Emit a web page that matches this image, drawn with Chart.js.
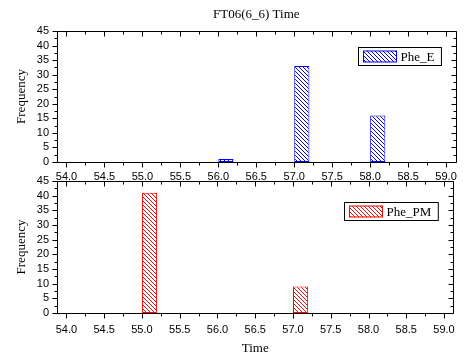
<!DOCTYPE html>
<html>
<head>
<meta charset="utf-8">
<script src="https://cdn.jsdelivr.net/npm/chart.js@4.4.1/dist/chart.umd.min.js"></script>
<style>
  html, body { margin: 0; padding: 0; background: #fff; }
  #wrap { position: relative; width: 465px; height: 356px; }
  canvas { position: absolute; left: 0; }
  #topChart { top: 0; }
  #bottomChart { top: 166px; }
</style>
</head>
<body>
<div id="wrap">
  <canvas id="topChart" width="465" height="190"></canvas>
  <canvas id="bottomChart" width="465" height="190"></canvas>
</div>
<script>
// histogram bins (left edge of each bin) and counts
const binWidth = 0.2;
const eBinStarts = [56.0, 57.0, 58.0];
const eCounts = [1, 33, 16];
const pmBinStarts = [55.0, 57.0];
const pmCounts = [41, 9];

const xMin = 54.0, xMax = 59.0;
const yMin = 0, yMax = 45;

const serif = '"Liberation Serif", "Times New Roman", serif';
const sans = '"Liberation Sans", Arial, sans-serif';

function hatch(color) {
    const s = 4;
    const c = document.createElement('canvas');
    c.width = s; c.height = s;
    const g = c.getContext('2d');
    g.fillStyle = '#fff';
    g.fillRect(0, 0, s, s);
    g.strokeStyle = color;
    g.lineWidth = 1;
    g.beginPath();
    g.moveTo(0, 0); g.lineTo(s, s);
    g.moveTo(-1, s - 1); g.lineTo(1, s + 1);
    g.moveTo(s - 1, -1); g.lineTo(s + 1, 1);
    g.stroke();
    return g.createPattern(c, 'repeat');
}

// frame + origin-style ticks (left/bottom out, top/right in)
const framePlugin = {
    id: 'frame',
    afterDraw(chart) {
        const ctx = chart.ctx;
        const { left, right, top, bottom } = chart.chartArea;
        const xs = chart.scales.x, ys = chart.scales.y;
        ctx.save();
        ctx.strokeStyle = '#000';
        ctx.lineWidth = 1;
        ctx.beginPath();
        const L = Math.round(left) + 0.5, R = Math.round(right) + 0.5;
        const T = Math.round(top) + 0.5, B = Math.round(bottom) + 0.5;
        ctx.rect(L, T, R - L, B - T);
        xs.ticks.forEach(t => {
            const px = Math.round(xs.getPixelForValue(t.value)) + 0.5;
            const major = Math.abs(t.value * 2 - Math.round(t.value * 2)) < 1e-6;
            const len = major ? 5 : 3;
            ctx.moveTo(px, B); ctx.lineTo(px, B + len);
            ctx.moveTo(px, T); ctx.lineTo(px, T + len);
        });
        ys.ticks.forEach((t, i) => {
            const vals = [t.value];
            if (i < ys.ticks.length - 1) vals.push((t.value + ys.ticks[i + 1].value) / 2);
            vals.forEach((v, j) => {
                const py = Math.round(ys.getPixelForValue(v)) + 0.5;
                const len = j === 0 ? 5 : 3;
                ctx.moveTo(L, py); ctx.lineTo(L - len, py);
                ctx.moveTo(R, py); ctx.lineTo(R - len, py);
            });
        });
        ctx.stroke();
        ctx.restore();
    }
};

// boxed legend inside the plot, top right
const boxLegend = {
    id: 'boxLegend',
    afterDraw(chart, args, opts) {
        const ctx = chart.ctx;
        const ds = chart.data.datasets[0];
        const { right, top } = chart.chartArea;
        ctx.save();
        ctx.font = '13px ' + serif;
        const tw = ctx.measureText(ds.label).width;
        const sw = 33, sh = 11;
        const w = 5 + sw + 4 + tw + 7;
        const h = 18;
        const x0 = Math.round(right - opts.offsetRight - w) + 0.5;
        const y0 = Math.round(top + opts.offsetTop) + 0.5;
        ctx.fillStyle = '#fff';
        ctx.fillRect(x0, y0, w, h);
        ctx.strokeStyle = '#000';
        ctx.lineWidth = 1;
        ctx.strokeRect(x0, y0, w, h);
        ctx.fillStyle = ds.backgroundColor;
        ctx.fillRect(x0 + 5, y0 + 3.5, sw, sh);
        ctx.strokeStyle = ds.borderColor;
        ctx.strokeRect(x0 + 5, y0 + 3.5, sw, sh);
        ctx.fillStyle = '#000';
        ctx.textBaseline = 'middle';
        ctx.fillText(ds.label, x0 + 5 + sw + 4, y0 + h / 2 + 1);
        ctx.restore();
    }
};

function histogram(canvasId, cfg) {
    const color = cfg.color;
    return new Chart(document.getElementById(canvasId), {
        type: 'bar',
        data: {
            datasets: [{
                label: cfg.label,
                data: cfg.starts.map((s, i) => ({ x: s + binWidth / 2, y: cfg.counts[i] })),
                backgroundColor: hatch(color),
                borderColor: color,
                borderWidth: 1,
                borderSkipped: false,
                categoryPercentage: 1,
                barPercentage: 0.8
            }]
        },
        options: {
            responsive: false,
            animation: false,
            layout: { padding: { left: 0, right: 8, top: 0, bottom: 0 } },
            plugins: {
                legend: { display: false },
                tooltip: { enabled: false },
                boxLegend: cfg.legendPos
            },
            scales: {
                x: {
                    type: 'linear',
                    position: 'bottom',
                    min: xMin, max: xMax,
                    grid: { display: false, drawTicks: false },
                    border: { display: false },
                    ticks: {
                        stepSize: 0.25,
                        autoSkip: false,
                        maxRotation: 0,
                        padding: cfg.xLabelPad,
                        display: cfg.showXLabels,
                        color: '#000',
                        font: { family: sans, size: 11 },
                        callback: v => (Math.abs(v * 2 - Math.round(v * 2)) < 1e-6 ? v.toFixed(1) : '')
                    },
                    title: {
                        display: !!cfg.xTitle,
                        text: cfg.xTitle || '',
                        color: '#000',
                        font: { family: serif, size: 13 },
                        padding: { top: 0, bottom: 0 }
                    },
                    afterFit: s => { s.height = cfg.xHeight; }
                },
                x2: {
                    type: 'linear',
                    position: 'top',
                    min: xMin, max: xMax,
                    grid: { display: false, drawTicks: false },
                    border: { display: false },
                    ticks: { display: false },
                    title: {
                        display: !!cfg.title,
                        text: cfg.title || '',
                        color: '#000',
                        font: { family: serif, size: 13 },
                        padding: { top: 7, bottom: 0 }
                    },
                    afterFit: s => { s.height = cfg.topHeight; }
                },
                y: {
                    min: yMin, max: yMax,
                    grid: { display: false, drawTicks: false },
                    border: { display: false },
                    ticks: {
                        stepSize: 5,
                        autoSkip: false,
                        padding: 8,
                        color: '#000',
                        font: { family: sans, size: 11 }
                    },
                    title: {
                        display: true,
                        text: 'Frequency',
                        color: '#000',
                        font: { family: serif, size: 13 },
                        padding: { top: 14, bottom: 0 }
                    },
                    afterFit: s => { s.width = 57; }
                }
            }
        },
        plugins: [framePlugin, boxLegend]
    });
}

histogram('topChart', {
    label: 'Phe_E', color: '#0000ff',
    starts: eBinStarts, counts: eCounts,
    title: 'FT06(6_6) Time',
    topHeight: 31, xHeight: 28, xLabelPad: 8, showXLabels: true,
    legendPos: { offsetRight: 15, offsetTop: 15.5 }
});

histogram('bottomChart', {
    label: 'Phe_PM', color: '#ff0000',
    starts: pmBinStarts, counts: pmCounts,
    xTitle: 'Time',
    topHeight: 15, xHeight: 43, xLabelPad: 10, showXLabels: true,
    legendPos: { offsetRight: 16, offsetTop: 20.5 }
});
</script>
</body>
</html>
